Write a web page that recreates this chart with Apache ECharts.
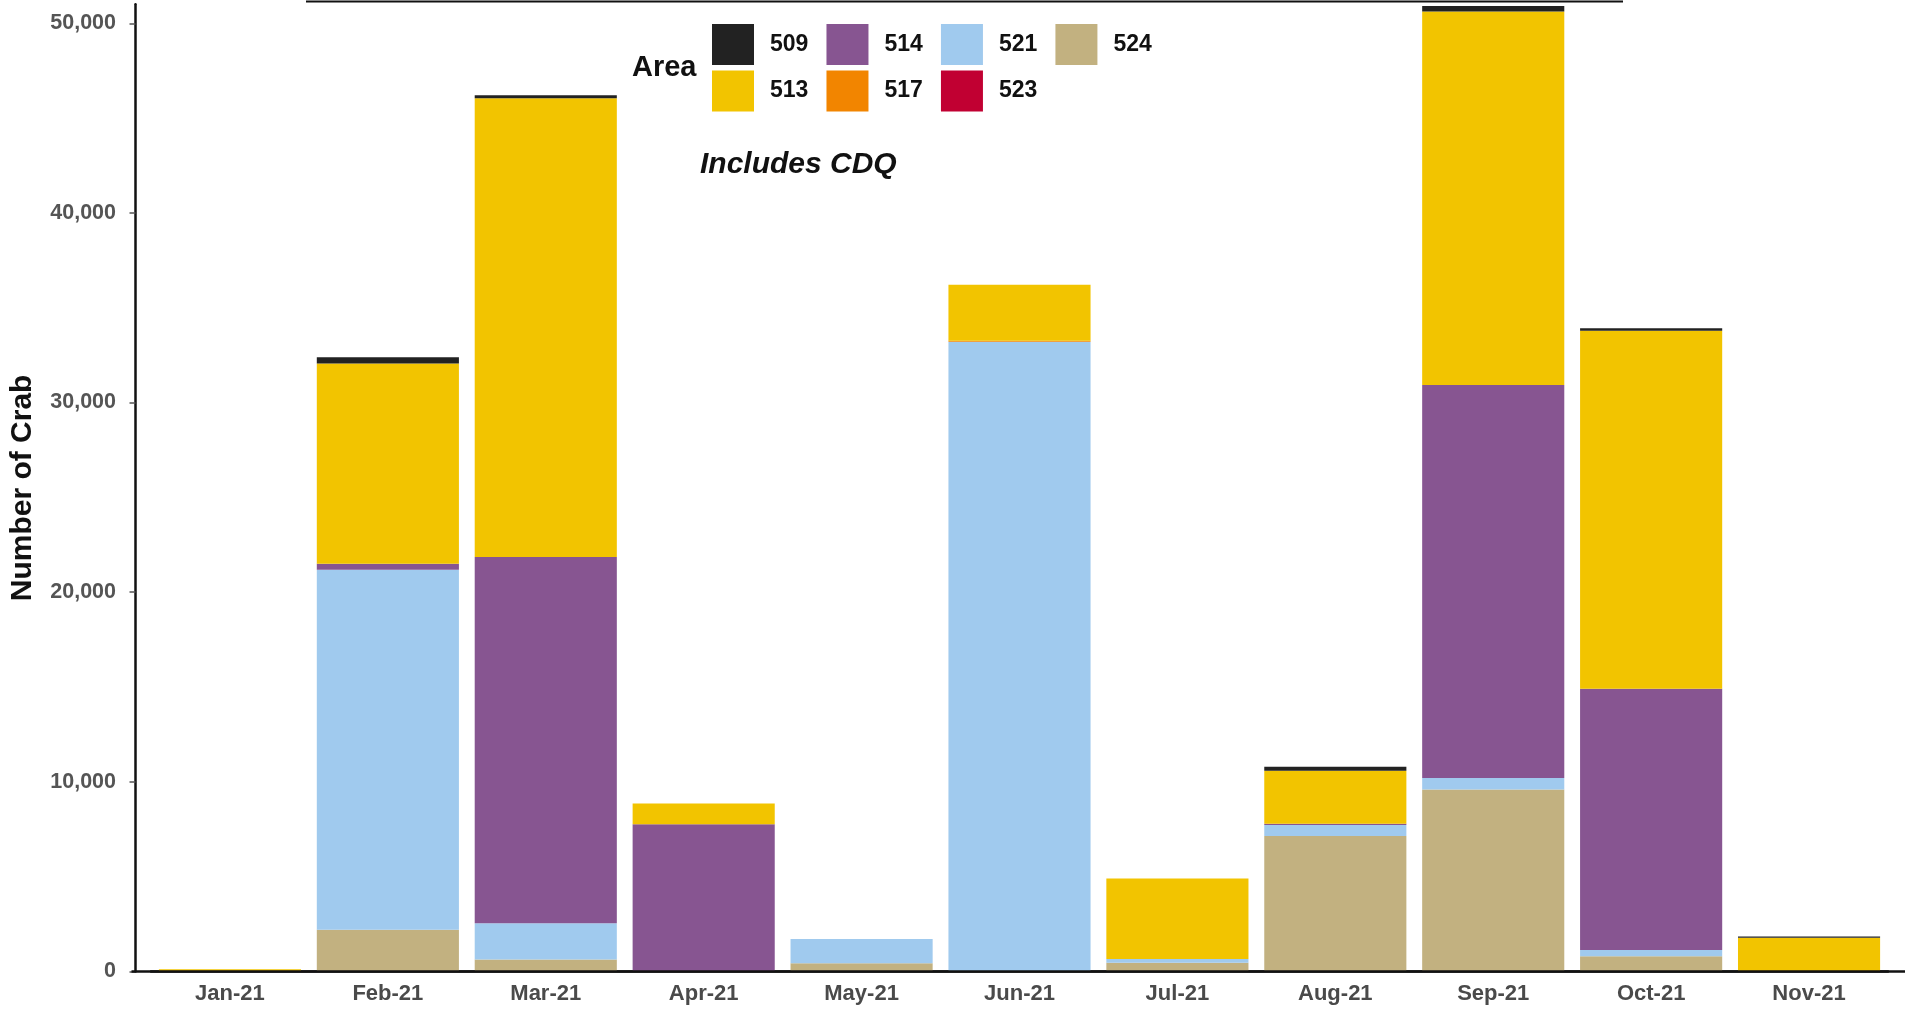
<!DOCTYPE html>
<html>
<head>
<meta charset="utf-8">
<script src="https://cdn.jsdelivr.net/npm/echarts@6/dist/echarts.min.js"></script>
<style>
html,body{margin:0;padding:0;background:#fff;}
#main{width:1905px;height:1009px;}
</style>
</head>
<body>
<div id="main"></div>
<script>
const months = ['Jan-21','Feb-21','Mar-21','Apr-21','May-21','Jun-21','Jul-21','Aug-21','Sep-21','Oct-21','Nov-21'];
const yTicks = [0, 10000, 20000, 30000, 40000, 50000];
// stacked bottom -> top
const a524 = [0, 2200, 630, 0, 440, 0, 455, 7140, 9600, 805, 0];
const a523 = [0, 0, 0, 0, 0, 0, 0, 0, 0, 0, 0];
const a521 = [0, 18990, 1920, 0, 1280, 33200, 210, 580, 600, 335, 0];
const a517 = [0, 0, 0, 0, 0, 60, 0, 0, 0, 0, 0];
const a514 = [0, 315, 19300, 7770, 0, 0, 0, 70, 20720, 13770, 0];
const a513 = [120, 10550, 24200, 1090, 0, 2950, 4235, 2800, 19700, 18870, 1780];
const a509 = [0, 330, 150, 0, 0, 0, 0, 210, 290, 140, 60];

const areaNames = ['524','523','521','517','514','513','509'];
const areaData = [a524, a523, a521, a517, a514, a513, a509];
const areaColors = {'509':'#222222','513':'#F2C400','514':'#875591','517':'#F28500','521':'#A0CAEE','523':'#C10032','524':'#C2B180'};

const chart = echarts.init(document.getElementById('main'));
const FONT = 'Liberation Sans, Arial, sans-serif';
const legendText = {fontFamily:FONT, fontWeight:'bold', fontSize:23, color:'#111', width:40, padding:[0,0,0,11]};
const option = {
  animation: false,
  backgroundColor: '#fff',
  title: [
    {text:'Area', left:632, top:53, padding:0, textStyle:{fontFamily:FONT, fontWeight:'bold', fontSize:29, color:'#111'}},
    {text:'Includes CDQ', left:700, top:150, padding:0, textStyle:{fontFamily:FONT, fontWeight:'bold', fontStyle:'italic', fontSize:30, color:'#111'}}
  ],
  legend: [
    {data:['509','514','521','524'], left:712, top:24, padding:0, itemWidth:42, itemHeight:41, itemGap:18.1, icon:'rect', textStyle:legendText, selectedMode:false},
    {data:['513','517','523'], left:712, top:70.5, padding:0, itemWidth:42, itemHeight:41, itemGap:18.1, icon:'rect', textStyle:legendText, selectedMode:false}
  ],
  grid: {left:147, right:17, top:4.3, bottom:37.5, containLabel:false},
  xAxis: {
    type:'category', data: months,
    axisLine:{lineStyle:{color:'#111', width:2.5}},
    axisTick:{alignWithLabel:true, length:6, lineStyle:{color:'#333', width:1.5}},
    axisLabel:{margin:11, fontFamily:FONT, fontWeight:'bold', fontSize:22, color:'#4a4a4a'}
  },
  yAxis: {
    type:'value', min:0, max:51000, offset:15.5,
    name:'Number of Crab', nameLocation:'middle', nameGap:97.5, nameRotate:90,
    nameTextStyle:{fontFamily:FONT, fontWeight:'bold', fontSize:30, color:'#111'},
    axisLine:{show:true, lineStyle:{color:'#111', width:2.5}},
    axisTick:{show:true, length:6, lineStyle:{color:'#555', width:1.5}, customValues: yTicks},
    axisLabel:{margin:19.5, fontFamily:FONT, fontWeight:'bold', fontSize:21.5, color:'#555',
      customValues: yTicks, formatter: v => Number(v).toLocaleString('en-US')},
    splitLine:{show:false}
  },
  series: areaNames.map((n, i) => ({
    name:n, type:'bar', stack:'total', barWidth:'90%', data: areaData[i],
    itemStyle:{color: areaColors[n]}
  }))
};
chart.setOption(option);
const y0 = chart.convertToPixel({yAxisIndex:0}, 0);
chart.setOption({
  graphic:[
    {type:'line', shape:{x1:131.5, y1:y0, x2:1905, y2:y0}, style:{stroke:'#111', lineWidth:2.5}, z:10},
    {type:'line', shape:{x1:306, y1:1.5, x2:1623, y2:1.5}, style:{stroke:'#111', lineWidth:2}, z:10}
  ]
});
</script>
</body>
</html>
